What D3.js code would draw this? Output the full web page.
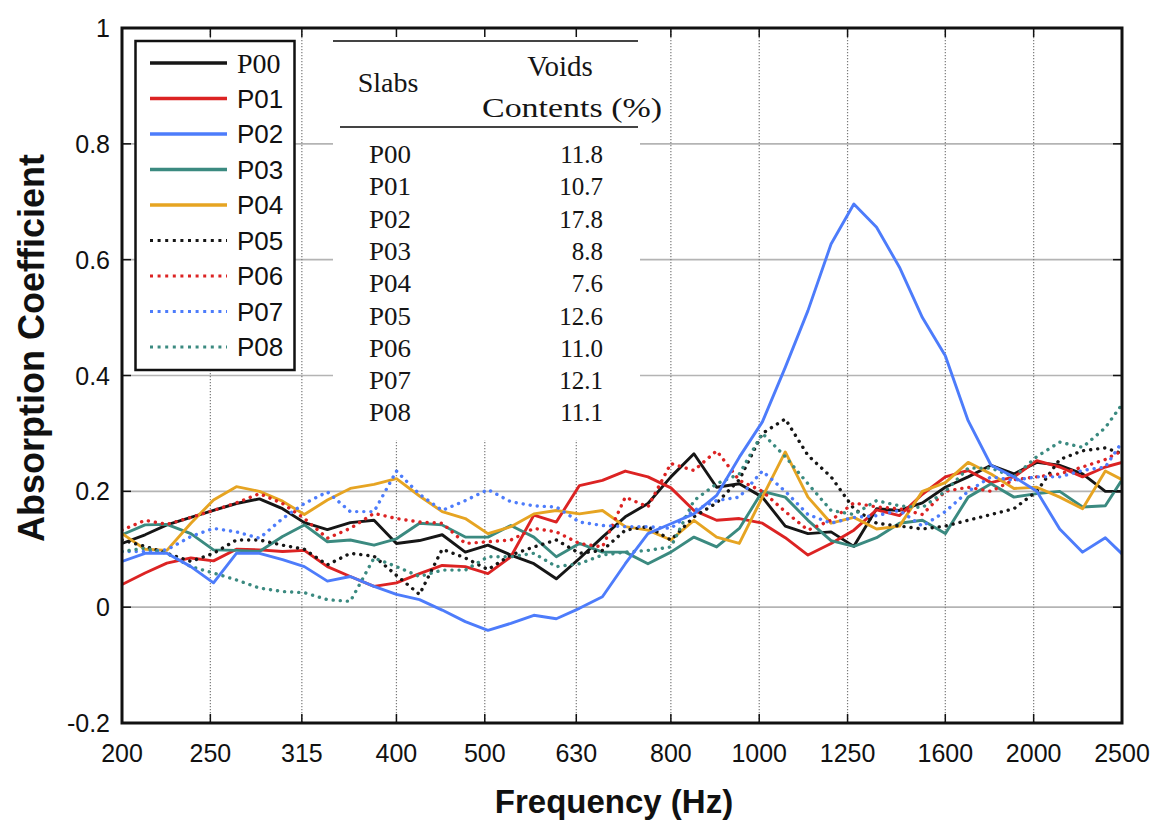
<!DOCTYPE html>
<html>
<head>
<meta charset="utf-8">
<script src="https://cdn.jsdelivr.net/npm/d3@7"></script>
<style>
  body { margin: 0; background: #fff; }
</style>
</head>
<body>
<div id="chart"></div>
<script>
// 1/12 octave frequency points (Hz)
var freqs = [200, 212, 224, 238, 252, 267, 283, 300, 317, 336, 356, 378, 400, 424, 449, 476, 504, 534, 566, 599,
  635, 673, 713, 755, 800, 848, 898, 951, 1008, 1068, 1131, 1199, 1270, 1345, 1425, 1510, 1600, 1695, 1796, 1903,
  2016, 2136, 2263, 2397, 2500];

// absorption coefficient
var p00 = [0.11, 0.125, 0.142, 0.155, 0.167, 0.179, 0.187, 0.17, 0.146, 0.134, 0.146, 0.15, 0.11, 0.115, 0.125,
  0.095, 0.107, 0.09, 0.075, 0.049, 0.084, 0.121, 0.156, 0.179, 0.225, 0.265, 0.207, 0.213, 0.19, 0.14, 0.127,
  0.13, 0.105, 0.17, 0.167, 0.18, 0.207, 0.225, 0.245, 0.23, 0.25, 0.245, 0.23, 0.2, 0.2];
var p01 = [0.039, 0.059, 0.076, 0.085, 0.08, 0.1, 0.099, 0.096, 0.098, 0.07, 0.053, 0.036, 0.042, 0.058, 0.072,
  0.07, 0.058, 0.087, 0.159, 0.147, 0.21, 0.219, 0.235, 0.225, 0.206, 0.167, 0.15, 0.153, 0.145, 0.12, 0.09,
  0.11, 0.133, 0.168, 0.158, 0.195, 0.225, 0.236, 0.215, 0.225, 0.253, 0.242, 0.225, 0.242, 0.25];
var p02 = [0.079, 0.093, 0.093, 0.07, 0.042, 0.093, 0.093, 0.082, 0.07, 0.045, 0.053, 0.036, 0.022, 0.013, -0.005,
  -0.025, -0.04, -0.028, -0.014, -0.02, -0.002, 0.018, 0.075, 0.127, 0.144, 0.161, 0.193, 0.259, 0.32, 0.414, 0.512,
  0.627, 0.696, 0.656, 0.587, 0.5, 0.434, 0.322, 0.245, 0.225, 0.2, 0.135, 0.095, 0.12, 0.092];
var p03 = [0.125, 0.142, 0.143, 0.127, 0.099, 0.098, 0.096, 0.122, 0.142, 0.113, 0.116, 0.107, 0.118, 0.145, 0.142,
  0.121, 0.121, 0.141, 0.121, 0.087, 0.11, 0.095, 0.095, 0.075, 0.095, 0.121, 0.104, 0.136, 0.2, 0.19, 0.15,
  0.115, 0.105, 0.12, 0.145, 0.15, 0.127, 0.19, 0.213, 0.19, 0.196, 0.2, 0.173, 0.175, 0.22];
var p04 = [0.127, 0.1, 0.098, 0.145, 0.185, 0.208, 0.2, 0.183, 0.16, 0.185, 0.205, 0.212, 0.222, 0.192, 0.165,
  0.153, 0.127, 0.139, 0.161, 0.167, 0.161, 0.167, 0.139, 0.133, 0.116, 0.15, 0.121, 0.11, 0.19, 0.268, 0.19,
  0.145, 0.155, 0.135, 0.14, 0.2, 0.215, 0.25, 0.23, 0.205, 0.207, 0.19, 0.17, 0.235, 0.22];
var p05 = [0.116, 0.105, 0.093, 0.079, 0.093, 0.116, 0.116, 0.107, 0.1, 0.073, 0.093, 0.088, 0.055, 0.022, 0.1,
  0.085, 0.065, 0.09, 0.104, 0.116, 0.093, 0.098, 0.133, 0.139, 0.116, 0.156, 0.18, 0.22, 0.3, 0.325, 0.262,
  0.225, 0.17, 0.145, 0.14, 0.135, 0.14, 0.15, 0.16, 0.17, 0.2, 0.255, 0.27, 0.275, 0.265];
var p06 = [0.133, 0.15, 0.143, 0.155, 0.167, 0.18, 0.196, 0.179, 0.153, 0.119, 0.136, 0.162, 0.153, 0.147, 0.145,
  0.11, 0.113, 0.116, 0.136, 0.13, 0.11, 0.104, 0.19, 0.173, 0.248, 0.236, 0.27, 0.219, 0.2, 0.165, 0.133,
  0.15, 0.18, 0.173, 0.17, 0.16, 0.2, 0.207, 0.2, 0.22, 0.225, 0.23, 0.242, 0.255, 0.27];
var p07 = [0.096, 0.096, 0.099, 0.122, 0.136, 0.13, 0.119, 0.153, 0.179, 0.199, 0.165, 0.165, 0.235, 0.195, 0.167,
  0.184, 0.203, 0.182, 0.175, 0.173, 0.147, 0.141, 0.139, 0.139, 0.136, 0.167, 0.184, 0.19, 0.235, 0.2, 0.16,
  0.145, 0.155, 0.158, 0.167, 0.14, 0.165, 0.2, 0.225, 0.219, 0.225, 0.225, 0.236, 0.242, 0.285];
var p08 = [0.096, 0.102, 0.093, 0.07, 0.059, 0.047, 0.033, 0.027, 0.025, 0.013, 0.01, 0.085, 0.07, 0.053, 0.064,
  0.064, 0.087, 0.087, 0.093, 0.07, 0.075, 0.09, 0.095, 0.098, 0.104, 0.184, 0.213, 0.23, 0.3, 0.26, 0.213,
  0.167, 0.16, 0.184, 0.175, 0.172, 0.2, 0.24, 0.24, 0.225, 0.26, 0.285, 0.276, 0.31, 0.35];

var slabs = ["P00", "P01", "P02", "P03", "P04", "P05", "P06", "P07", "P08"];
var voids = ["11.8", "10.7", "17.8", "8.8", "7.6", "12.6", "11.0", "12.1", "11.1"];
var seriesValues = [p00, p01, p02, p03, p04, p05, p06, p07, p08];
var seriesColors = ["#161616", "#dc2323", "#4d7cfb", "#3b8a80", "#e6a422", "#161616", "#dc2323", "#4d7cfb", "#3b8a80"];
var seriesDotted = [false, false, false, false, false, true, true, true, true];

var xTicks = [200, 250, 315, 400, 500, 630, 800, 1000, 1250, 1600, 2000, 2500];
var yTicks = [-0.2, 0, 0.2, 0.4, 0.6, 0.8, 1];

var width = 1157, height = 821;
var plot = {left: 122, right: 1122, top: 28, bottom: 723};

var svg = d3.select("#chart").append("svg")
  .attr("width", width)
  .attr("height", height)
  .style("font-family", "'Liberation Sans', Arial, sans-serif");

var x = d3.scaleLog().domain([200, 2500]).range([plot.left, plot.right]);
var y = d3.scaleLinear().domain([-0.2, 1]).range([plot.bottom, plot.top]);

// grid
svg.append("g").selectAll("line").data(yTicks.slice(1, -1)).enter().append("line")
  .attr("x1", plot.left).attr("x2", plot.right)
  .attr("y1", function(d) { return y(d); }).attr("y2", function(d) { return y(d); })
  .attr("stroke", "#b4b4b4").attr("stroke-width", 1.6);
svg.append("g").selectAll("line").data(xTicks.slice(1, -1)).enter().append("line")
  .attr("x1", function(d) { return x(d); }).attr("x2", function(d) { return x(d); })
  .attr("y1", plot.top).attr("y2", plot.bottom)
  .attr("stroke", "#7a7a7a").attr("stroke-width", 1.2).attr("stroke-dasharray", "1.2,1.8");

// white box behind the table hides the grid
svg.append("rect").attr("x", 333).attr("y", 30).attr("width", 307).attr("height", 410).attr("fill", "#fff");

svg.append("defs").append("clipPath").attr("id", "clip")
  .append("rect").attr("x", plot.left).attr("y", plot.top)
  .attr("width", plot.right - plot.left).attr("height", plot.bottom - plot.top);

var line = d3.line()
  .x(function(d, i) { return x(freqs[i]); })
  .y(function(d) { return y(d); });

var lines = svg.append("g").attr("clip-path", "url(#clip)");
[0, 1, 3, 4, 5, 6, 7, 8, 2].forEach(function(i) {
  var p = lines.append("path")
    .attr("d", line(seriesValues[i]))
    .attr("fill", "none")
    .attr("stroke", seriesColors[i])
    .attr("stroke-linejoin", "round");
  if (seriesDotted[i]) {
    p.attr("stroke-width", 3.4).attr("stroke-linecap", "round").attr("stroke-dasharray", "0.1,7");
  } else {
    p.attr("stroke-width", 2.9);
  }
});

// frame and inward ticks
svg.append("rect")
  .attr("x", plot.left).attr("y", plot.top)
  .attr("width", plot.right - plot.left).attr("height", plot.bottom - plot.top)
  .attr("fill", "none").attr("stroke", "#111").attr("stroke-width", 3);

var ticks = svg.append("g").attr("stroke", "#111").attr("stroke-width", 1.5);
xTicks.slice(1, -1).forEach(function(t) {
  ticks.append("line").attr("x1", x(t)).attr("x2", x(t)).attr("y1", plot.bottom).attr("y2", plot.bottom - 9);
  ticks.append("line").attr("x1", x(t)).attr("x2", x(t)).attr("y1", plot.top).attr("y2", plot.top + 9);
});
yTicks.slice(1, -1).forEach(function(t) {
  ticks.append("line").attr("x1", plot.left).attr("x2", plot.left + 9).attr("y1", y(t)).attr("y2", y(t));
  ticks.append("line").attr("x1", plot.right).attr("x2", plot.right - 9).attr("y1", y(t)).attr("y2", y(t));
});

// tick labels
svg.append("g").selectAll("text").data(xTicks).enter().append("text")
  .attr("x", function(d) { return x(d); })
  .attr("y", 762)
  .attr("text-anchor", "middle")
  .attr("font-size", 25)
  .attr("fill", "#111")
  .text(function(d) { return d; });

svg.append("g").selectAll("text").data(yTicks).enter().append("text")
  .attr("x", 110)
  .attr("y", function(d) { return y(d); })
  .attr("dy", "0.36em")
  .attr("text-anchor", "end")
  .attr("font-size", 25)
  .attr("fill", "#111")
  .text(function(d) { return String(d); });

// axis titles
svg.append("text")
  .attr("text-anchor", "middle")
  .attr("transform", "translate(44,348)rotate(-90)")
  .attr("font-size", 36).attr("font-weight", "bold").attr("fill", "#111")
  .text("Absorption Coefficient");

svg.append("text")
  .attr("x", 614).attr("y", 813)
  .attr("text-anchor", "middle")
  .attr("font-size", 33).attr("font-weight", "bold").attr("fill", "#111")
  .text("Frequency (Hz)");

// legend
var legend = svg.append("g");
legend.append("rect")
  .attr("x", 135.5).attr("y", 41).attr("width", 159).attr("height", 329)
  .attr("fill", "#fff").attr("stroke", "#111").attr("stroke-width", 2.5);
slabs.forEach(function(name, i) {
  var ly = 63 + i * 35.5;
  var l = legend.append("line")
    .attr("x1", 150).attr("x2", 227).attr("y1", ly).attr("y2", ly)
    .attr("stroke", seriesColors[i]);
  if (seriesDotted[i]) {
    l.attr("stroke-width", 3).attr("stroke-dasharray", "3,4.6");
  } else {
    l.attr("stroke-width", 3.5);
  }
  legend.append("text")
    .attr("x", 237).attr("y", ly).attr("dy", "0.36em")
    .attr("font-size", i === 0 ? 28 : 26)
    .style("font-family", i === 0 ? "'Liberation Serif', serif" : "'Liberation Sans', Arial, sans-serif")
    .attr("fill", "#111")
    .text(name);
});

// voids content table
var table = svg.append("g")
  .style("font-family", "'Liberation Serif', 'Times New Roman', serif")
  .attr("fill", "#151515");
table.append("line").attr("x1", 333).attr("x2", 638).attr("y1", 41).attr("y2", 41)
  .attr("stroke", "#444").attr("stroke-width", 2);
table.append("line").attr("x1", 340).attr("x2", 638).attr("y1", 127).attr("y2", 127)
  .attr("stroke", "#444").attr("stroke-width", 2);
table.append("text").attr("x", 388).attr("y", 92).attr("font-size", 28)
  .attr("text-anchor", "middle").text("Slabs");
table.append("text").attr("x", 560).attr("y", 76).attr("font-size", 29)
  .attr("text-anchor", "middle").text("Voids");
table.append("text").attr("x", 482).attr("y", 117).attr("font-size", 28)
  .attr("textLength", 180).attr("lengthAdjust", "spacingAndGlyphs").text("Contents (%)");
slabs.forEach(function(name, i) {
  var ty = 163 + i * 32.3;
  table.append("text").attr("x", 369).attr("y", ty).attr("font-size", 25)
    .attr("textLength", 42).attr("lengthAdjust", "spacingAndGlyphs").text(name);
  table.append("text").attr("x", 603).attr("y", ty).attr("font-size", 25)
    .attr("text-anchor", "end").text(voids[i]);
});
</script>
</body>
</html>
